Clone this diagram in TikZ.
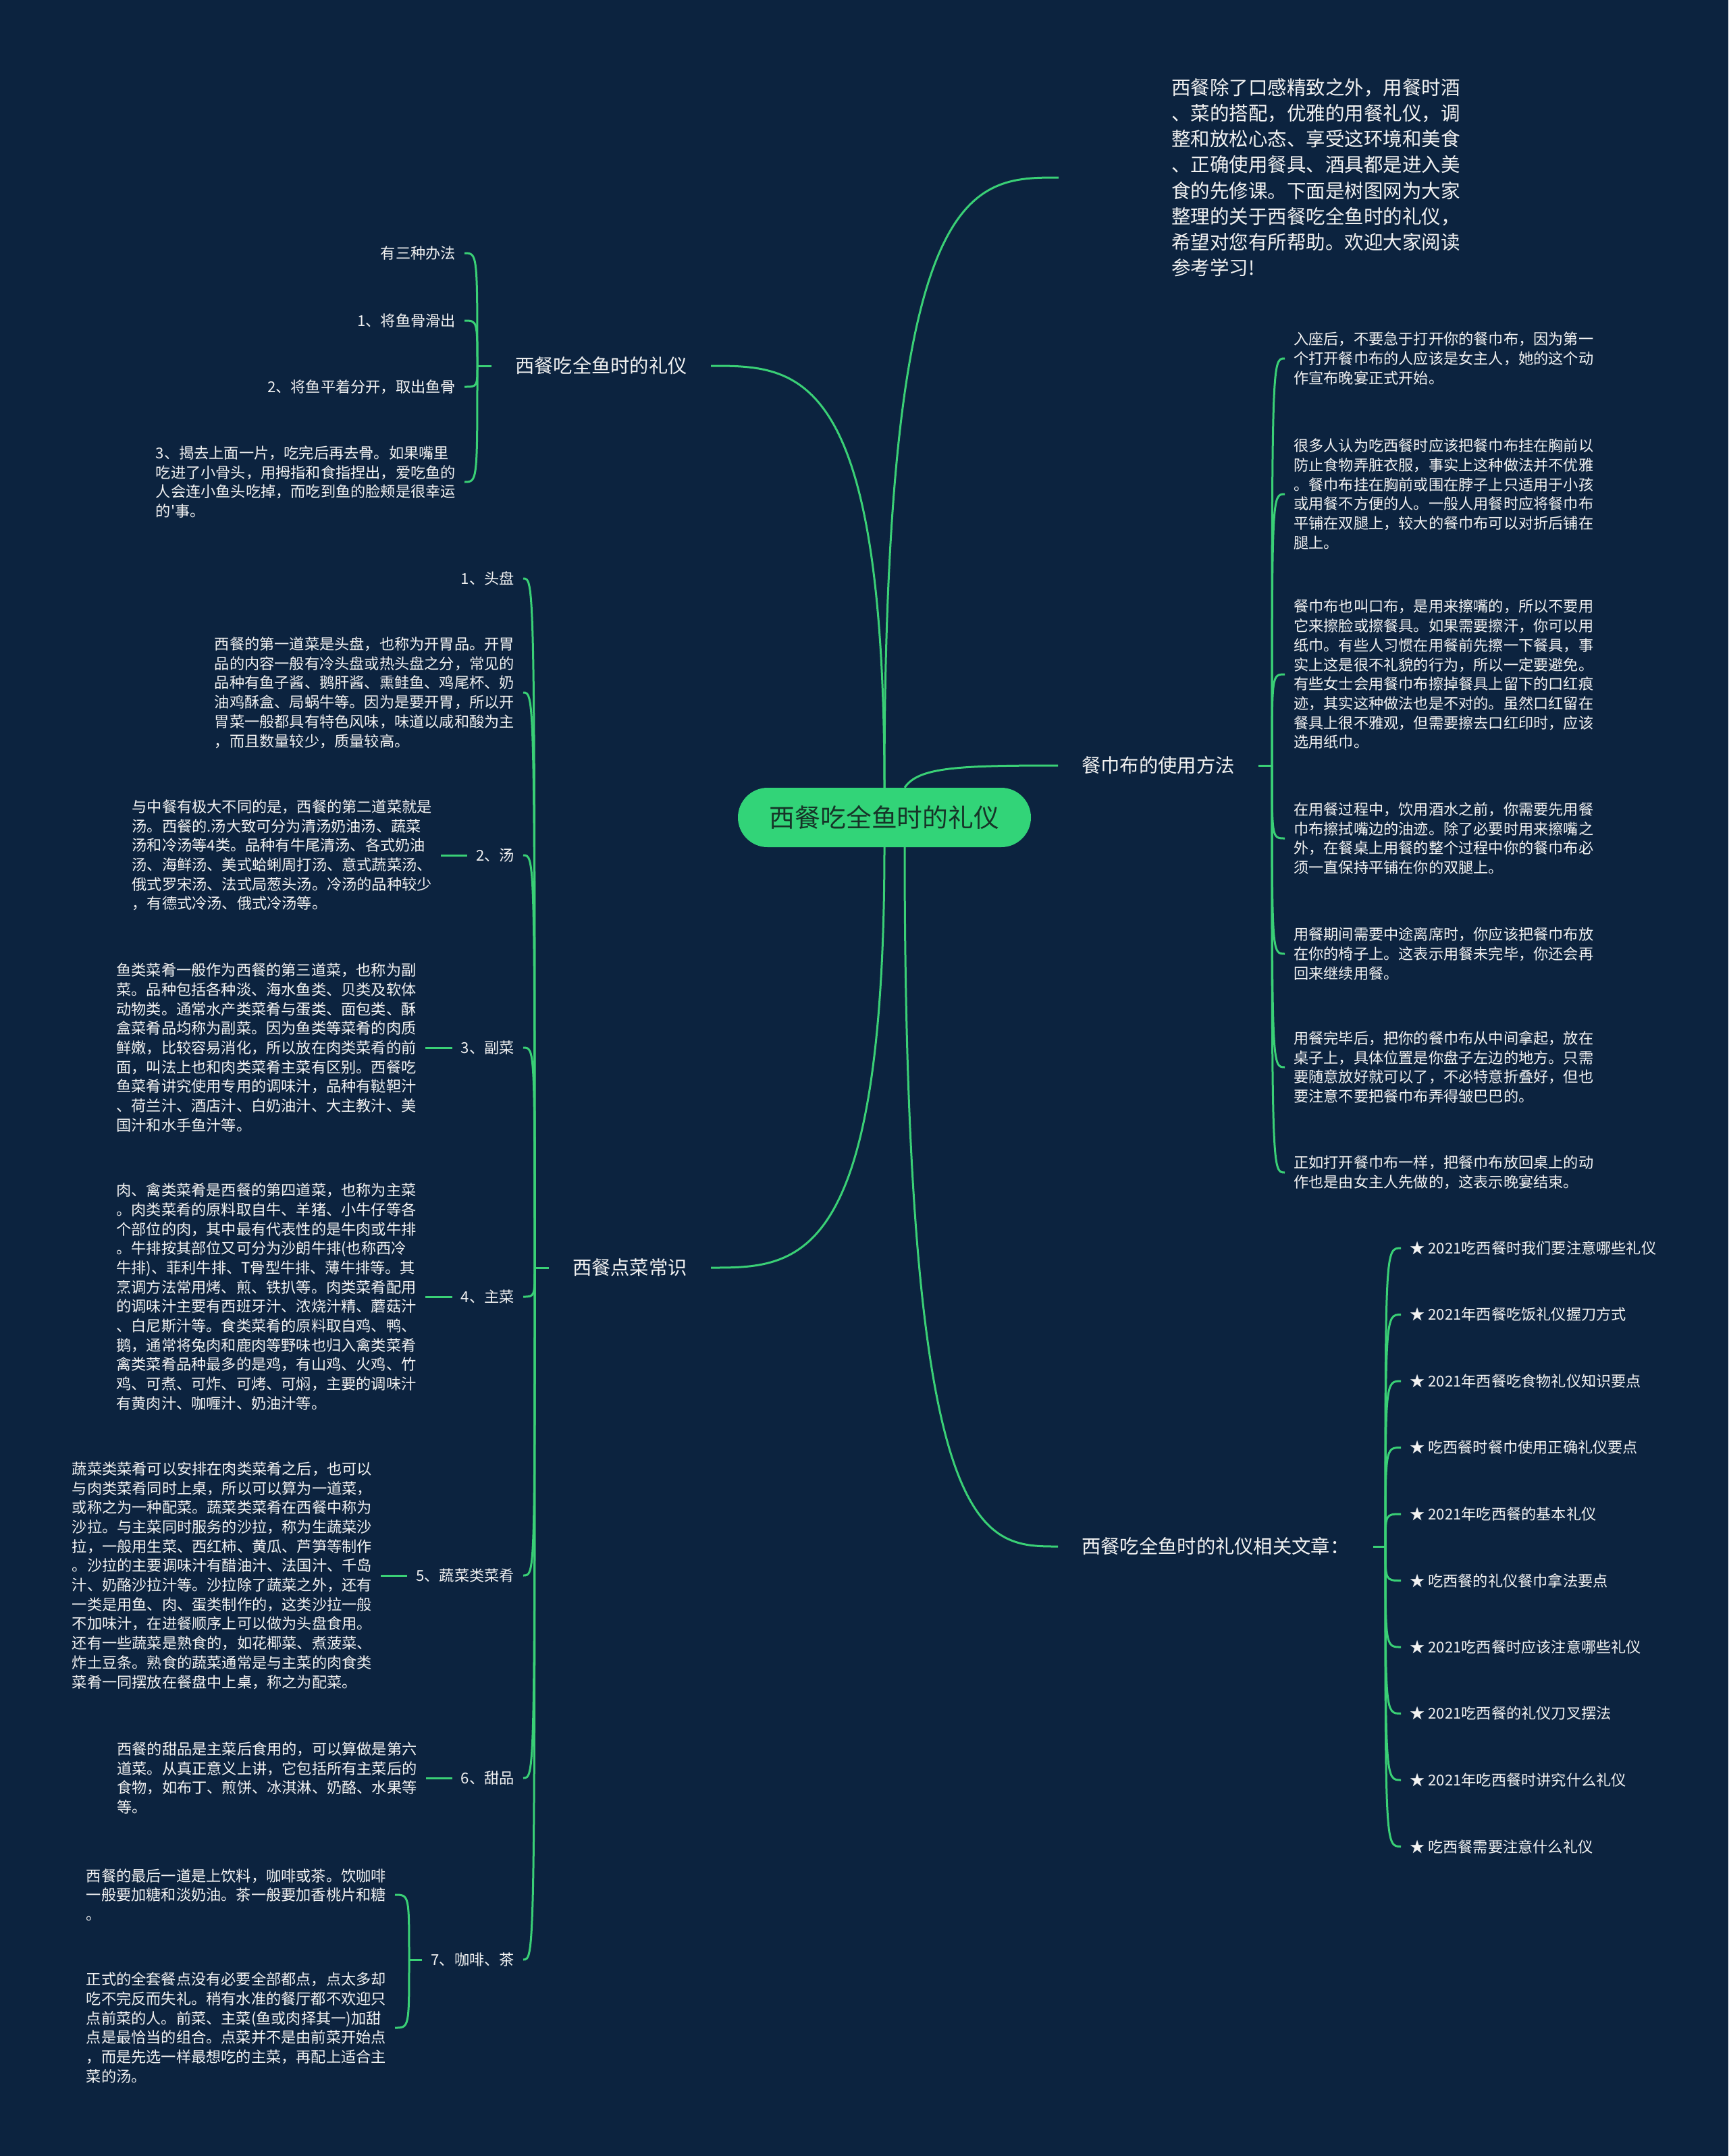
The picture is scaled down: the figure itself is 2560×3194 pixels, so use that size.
\documentclass[tikz,border=0pt]{standalone}
\usepackage{fontspec}
\setmainfont{Noto Sans CJK SC}
\newfontfamily\cjk{Noto Sans CJK SC}
\usetikzlibrary{positioning,calc}
\definecolor{navy}{RGB}{12,35,63}
\definecolor{lineg}{RGB}{58,208,118}
\definecolor{rootg}{RGB}{50,212,120}
\definecolor{rootink}{RGB}{22,52,40}
\definecolor{ink}{RGB}{242,242,242}

\begin{document}
\begin{tikzpicture}[x=1pt,y=-1pt,
	root/.style={fill=rootg, rounded corners=44pt, minimum width=434pt, minimum height=88pt, inner sep=0pt, text=rootink, font=\cjk\fontsize{37.8}{40}\selectfont},
	branch/.style={text=ink, inner xsep=35pt, inner ysep=4pt, font=\cjk\fontsize{28.3}{34}\selectfont},
	leaf/.style={text=ink, align=left, inner xsep=13pt, inner ysep=2pt, font=\cjk\fontsize{22.2}{28.7}\selectfont},
	intro/.style={text=ink, align=left, inner sep=0pt, font=\cjk\fontsize{28.5}{38.2}\selectfont},
	link/.style={draw=lineg, line width=3pt},
	brace/.style={to path={.. controls (\tikztostart |- \tikztotarget) and (\tikztostart |- \tikztotarget) .. (\tikztotarget)}},
	sweep/.style={to path={.. controls (\tikztostart |- \tikztotarget) and ($(\tikztostart |- \tikztotarget)!0.5!(\tikztotarget)$) .. (\tikztotarget)}}]

		\fill[navy] (0,0) rectangle (2560,3194);
		\useasboundingbox (0,0) rectangle (2560,3194);

		\node[root] (root) at (1310,1211) {西餐吃全鱼时的礼仪};

		\node[branch, anchor=east] (fish) at (1053,542) {西餐吃全鱼时的礼仪};
		\node[branch, anchor=east] (order) at (1053,1878) {西餐点菜常识};
		\node[branch, anchor=west] (napkin) at (1567,1134) {餐巾布的使用方法};
		\node[branch, anchor=west] (related) at (1567,2291) {西餐吃全鱼时的礼仪相关文章：};
		\node[intro, anchor=west] (intro) at (1735,263) {西餐除了口感精致之外，用餐时酒\\、菜的搭配，优雅的用餐礼仪，调\\整和放松心态、享受这环境和美食\\、正确使用餐具、酒具都是进入美\\食的先修课。下面是树图网为大家\\整理的关于西餐吃全鱼时的礼仪，\\希望对您有所帮助。欢迎大家阅读\\参考学习!};

		\coordinate (rootn) at (root.north);
		\coordinate (roots) at (root.south);
		\coordinate (rootne) at ([xshift=30pt]root.north);
		\coordinate (rootse) at ([xshift=30pt]root.south);
		\coordinate (introlink) at ([xshift=-167pt]intro.west);
		\coordinate (fishfork) at (707,542);
		\coordinate (orderfork) at (792,1878);
		\coordinate (napkinfork) at (1884,1134);
		\coordinate (relatedfork) at (2052,2291);
		\coordinate (coffeefork) at (606,2903);

		\begin{scope}[every node/.style={leaf, anchor=east}]
			\node (a0) at (688,375) {有三种办法};
			\node (a1) at (688,475) {1、将鱼骨滑出};
			\node (a2) at (688,573) {2、将鱼平着分开，取出鱼骨};
			\node (a3) at (688,714) {3、揭去上面一片，吃完后再去骨。如果嘴里\\吃进了小骨头，用拇指和食指捏出，爱吃鱼的\\人会连小鱼头吃掉，而吃到鱼的脸颊是很幸运\\的'事。};

			\node (b1) at (775,857) {1、头盘};
			\node (b1p) at (775,1026) {西餐的第一道菜是头盘，也称为开胃品。开胃\\品的内容一般有冷头盘或热头盘之分，常见的\\品种有鱼子酱、鹅肝酱、熏鲑鱼、鸡尾杯、奶\\油鸡酥盒、局蜗牛等。因为是要开胃，所以开\\胃菜一般都具有特色风味，味道以咸和酸为主\\，而且数量较少，质量较高。};
			\node (b2) at (775,1267) {2、汤};
			\node (b3) at (775,1552) {3、副菜};
			\node (b4) at (775,1921) {4、主菜};
			\node (b5) at (775,2334) {5、蔬菜类菜肴};
			\node (b6) at (775,2634) {6、甜品};
			\node (b7) at (775,2903) {7、咖啡、茶};

			\node[left=39pt of b2] (b2p) {与中餐有极大不同的是，西餐的第二道菜就是\\汤。西餐的.汤大致可分为清汤奶油汤、蔬菜\\汤和冷汤等4类。品种有牛尾清汤、各式奶油\\汤、海鲜汤、美式蛤蜊周打汤、意式蔬菜汤、\\俄式罗宋汤、法式局葱头汤。冷汤的品种较少\\，有德式冷汤、俄式冷汤等。};
			\node[left=40pt of b3] (b3p) {鱼类菜肴一般作为西餐的第三道菜，也称为副\\菜。品种包括各种淡、海水鱼类、贝类及软体\\动物类。通常水产类菜肴与蛋类、面包类、酥\\盒菜肴品均称为副菜。因为鱼类等菜肴的肉质\\鲜嫩，比较容易消化，所以放在肉类菜肴的前\\面，叫法上也和肉类菜肴主菜有区别。西餐吃\\鱼菜肴讲究使用专用的调味汁，品种有鞑靼汁\\、荷兰汁、酒店汁、白奶油汁、大主教汁、美\\国汁和水手鱼汁等。};
			\node[left=40pt of b4] (b4p) {肉、禽类菜肴是西餐的第四道菜，也称为主菜\\。肉类菜肴的原料取自牛、羊猪、小牛仔等各\\个部位的肉，其中最有代表性的是牛肉或牛排\\。牛排按其部位又可分为沙朗牛排(也称西冷\\牛排)、菲利牛排、T骨型牛排、薄牛排等。其\\烹调方法常用烤、煎、铁扒等。肉类菜肴配用\\的调味汁主要有西班牙汁、浓烧汁精、蘑菇汁\\、白尼斯汁等。食类菜肴的原料取自鸡、鸭、\\鹅，通常将兔肉和鹿肉等野味也归入禽类菜肴\\禽类菜肴品种最多的是鸡，有山鸡、火鸡、竹\\鸡、可煮、可炸、可烤、可焖，主要的调味汁\\有黄肉汁、咖喱汁、奶油汁等。};
			\node[left=39pt of b5] (b5p) {蔬菜类菜肴可以安排在肉类菜肴之后，也可以\\与肉类菜肴同时上桌，所以可以算为一道菜，\\或称之为一种配菜。蔬菜类菜肴在西餐中称为\\沙拉。与主菜同时服务的沙拉，称为生蔬菜沙\\拉，一般用生菜、西红柿、黄瓜、芦笋等制作\\。沙拉的主要调味汁有醋油汁、法国汁、千岛\\汁、奶酪沙拉汁等。沙拉除了蔬菜之外，还有\\一类是用鱼、肉、蛋类制作的，这类沙拉一般\\不加味汁，在进餐顺序上可以做为头盘食用。\\还有一些蔬菜是熟食的，如花椰菜、煮菠菜、\\炸土豆条。熟食的蔬菜通常是与主菜的肉食类\\菜肴一同摆放在餐盘中上桌，称之为配菜。};
			\node[left=39pt of b6] (b6p) {西餐的甜品是主菜后食用的，可以算做是第六\\道菜。从真正意义上讲，它包括所有主菜后的\\食物，如布丁、煎饼、冰淇淋、奶酪、水果等\\等。};
			\node (b7a) at (585,2807) {西餐的最后一道是上饮料，咖啡或茶。饮咖啡\\一般要加糖和淡奶油。茶一般要加香桃片和糖\\。};
			\node (b7b) at (585,3004) {正式的全套餐点没有必要全部都点，点太多却\\吃不完反而失礼。稍有水准的餐厅都不欢迎只\\点前菜的人。前菜、主菜(鱼或肉择其一)加甜\\点是最恰当的组合。点菜并不是由前菜开始点\\，而是先选一样最想吃的主菜，再配上适合主\\菜的汤。};
		\end{scope}

		\begin{scope}[every node/.style={leaf, anchor=west}]
			\node (c1) at (1903,531) {入座后，不要急于打开你的餐巾布，因为第一\\个打开餐巾布的人应该是女主人，她的这个动\\作宣布晚宴正式开始。};
			\node (c2) at (1903,732) {很多人认为吃西餐时应该把餐巾布挂在胸前以\\防止食物弄脏衣服，事实上这种做法并不优雅\\。餐巾布挂在胸前或围在脖子上只适用于小孩\\或用餐不方便的人。一般人用餐时应将餐巾布\\平铺在双腿上，较大的餐巾布可以对折后铺在\\腿上。};
			\node (c3) at (1903,999) {餐巾布也叫口布，是用来擦嘴的，所以不要用\\它来擦脸或擦餐具。如果需要擦汗，你可以用\\纸巾。有些人习惯在用餐前先擦一下餐具，事\\实上这是很不礼貌的行为，所以一定要避免。\\有些女士会用餐巾布擦掉餐具上留下的口红痕\\迹，其实这种做法也是不对的。虽然口红留在\\餐具上很不雅观，但需要擦去口红印时，应该\\选用纸巾。};
			\node (c4) at (1903,1242) {在用餐过程中，饮用酒水之前，你需要先用餐\\巾布擦拭嘴边的油迹。除了必要时用来擦嘴之\\外，在餐桌上用餐的整个过程中你的餐巾布必\\须一直保持平铺在你的双腿上。};
			\node (c5) at (1903,1413) {用餐期间需要中途离席时，你应该把餐巾布放\\在你的椅子上。这表示用餐未完毕，你还会再\\回来继续用餐。};
			\node (c6) at (1903,1581) {用餐完毕后，把你的餐巾布从中间拿起，放在\\桌子上，具体位置是你盘子左边的地方。只需\\要随意放好就可以了，不必特意折叠好，但也\\要注意不要把餐巾布弄得皱巴巴的。};
			\node (c7) at (1903,1737) {正如打开餐巾布一样，把餐巾布放回桌上的动\\作也是由女主人先做的，这表示晚宴结束。};

			\node (d1) at (2075,1849) {★ 2021吃西餐时我们要注意哪些礼仪};
			\node (d2) at (2075,1947.5) {★ 2021年西餐吃饭礼仪握刀方式};
			\node (d3) at (2075,2046) {★ 2021年西餐吃食物礼仪知识要点};
			\node (d4) at (2075,2144.5) {★ 吃西餐时餐巾使用正确礼仪要点};
			\node (d5) at (2075,2243) {★ 2021年吃西餐的基本礼仪};
			\node (d6) at (2075,2341.5) {★ 吃西餐的礼仪餐巾拿法要点};
			\node (d7) at (2075,2440) {★ 2021吃西餐时应该注意哪些礼仪};
			\node (d8) at (2075,2538.5) {★ 2021吃西餐的礼仪刀叉摆法};
			\node (d9) at (2075,2637) {★ 2021年吃西餐时讲究什么礼仪};
			\node (d10) at (2075,2735.5) {★ 吃西餐需要注意什么礼仪};
		\end{scope}

		\begin{scope}[every edge/.style={link, sweep}]
			\path (rootn) edge (fish.east) edge (introlink);
			\path (roots) edge (order.east);
			\path (rootse) edge (related.west);
		\end{scope}

		\begin{scope}[every edge/.style={link, brace}]
			\path (fishfork) edge (a0.east) edge (a1.east) edge (a2.east) edge (a3.east);
			\path (orderfork) edge (b1.east) edge (b1p.east) edge (b2.east) edge (b3.east) edge (b4.east) edge (b5.east) edge (b6.east) edge (b7.east);
			\path (coffeefork) edge (b7a.east) edge (b7b.east);
			\path (napkinfork) edge (c1.west) edge (c2.west) edge (c3.west) edge (c4.west) edge (c5.west) edge (c6.west) edge (c7.west);
			\path (relatedfork) edge (d1.west) edge (d2.west) edge (d3.west) edge (d4.west) edge (d5.west) edge (d6.west) edge (d7.west) edge (d8.west) edge (d9.west) edge (d10.west);
		\end{scope}

		\draw[link] (rootne) .. controls +(20,-30) and +(-150,0) .. (napkin.west);
		\draw[link] (fish.west) -- (fishfork);
		\draw[link] (order.west) -- (orderfork);
		\draw[link] (napkin.east) -- (napkinfork);
		\draw[link] (related.east) -- (relatedfork);
		\draw[link] (b7.west) -- (coffeefork);
		\draw[link] (b2.west) -- (b2p.east);
		\draw[link] (b3.west) -- (b3p.east);
		\draw[link] (b4.west) -- (b4p.east);
		\draw[link] (b5.west) -- (b5p.east);
		\draw[link] (b6.west) -- (b6p.east);

	\end{tikzpicture}
\end{document}
